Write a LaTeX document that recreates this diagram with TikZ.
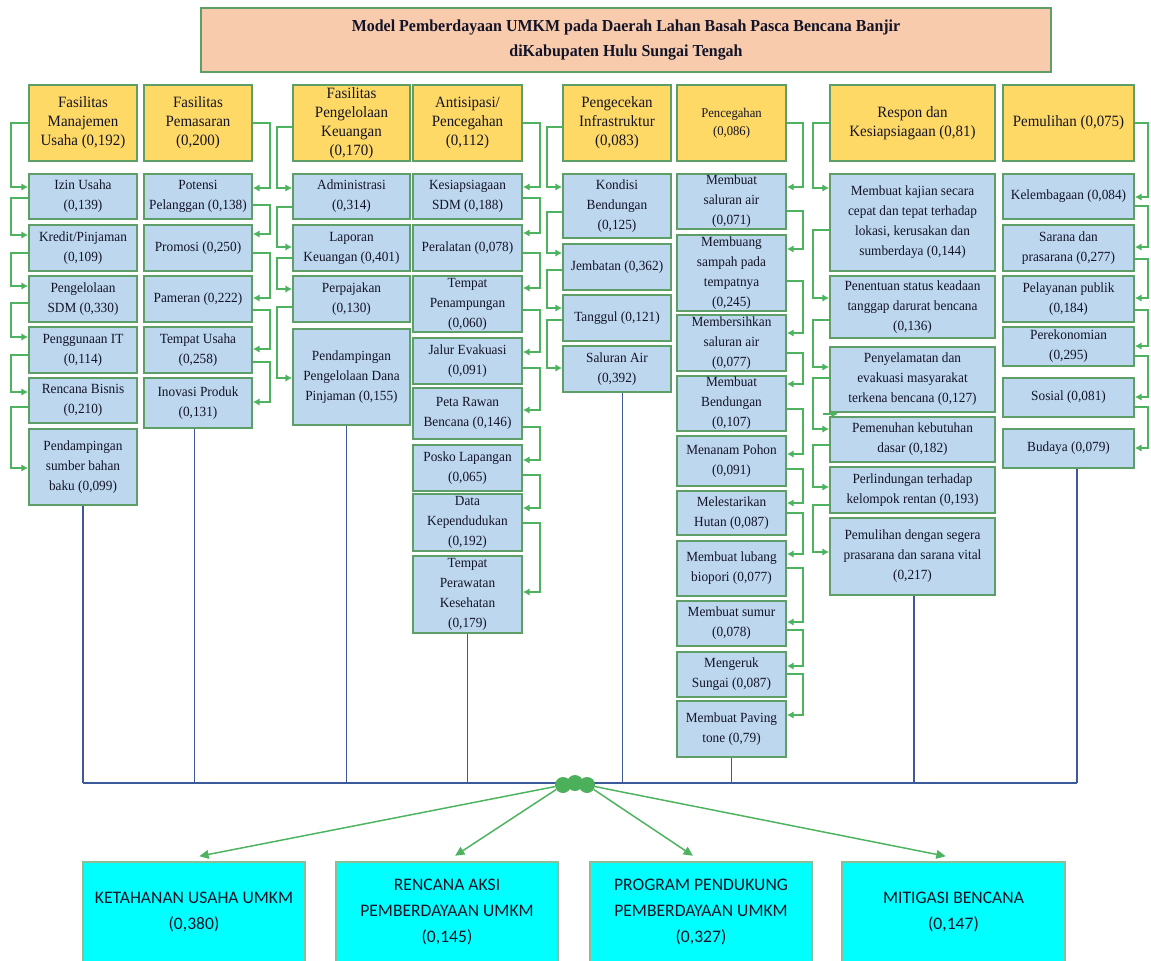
\documentclass[tikz,border=0pt]{standalone}
\usepackage{fontspec}
\setmainfont{Liberation Serif}[FakeStretch=0.95]
\newfontfamily\calfont{Carlito}
\usetikzlibrary{arrows.meta,calc}
\definecolor{hdrY}{HTML}{FFD966}
\definecolor{boxB}{HTML}{BDD7EE}
\definecolor{bordG}{HTML}{5E9F68}
\definecolor{connG}{HTML}{4DB35E}
\definecolor{busB}{HTML}{3C5A99}
\definecolor{titleP}{HTML}{F8CBAD}
\definecolor{cyanB}{HTML}{00FFFF}
\definecolor{blobG}{HTML}{4CAF5A}
\definecolor{txt}{HTML}{141428}
\tikzset{
  box/.style={draw=bordG, line width=1.3pt, fill=boxB, align=center, inner sep=0pt, text=txt,
    font=\fontsize{10.5}{15}\selectfont},
  hdrbox/.style={box, fill=hdrY, font=\fontsize{11.8}{14.3}\selectfont},
  smallhdr/.style={box, fill=hdrY, font=\fontsize{10}{13.8}\selectfont},
  titlebox/.style={box, fill=titleP, line width=1pt, font=\bfseries\fontsize{12.6}{18.7}\selectfont},
  goalbox/.style={draw=bordG!70, line width=0.8pt, fill=cyanB, align=center, inner sep=0pt, text=txt,
    font=\calfont\fontsize{13.2}{19.5}\selectfont},
  conn/.style={draw=connG, line width=1.1pt, -{Latex[length=5pt,width=5.5pt]}},
  busline/.style={draw=busB, line width=1pt},
  blob/.style={circle, fill=blobG, minimum size=12pt, inner sep=0pt},
  barrow/.style={draw=connG, line width=1.1pt, -{Triangle[length=7pt,width=6.5pt]}, shorten >=1pt},
}
\newcommand\bx[7][box]{\node[#1, minimum width={0.75pt*(#5-#3)}, minimum height={0.75pt*(#6-#4)}] (#2) at ({(#3+#5)/2},{(#4+#6)/2}) {#7};}
\newcommand\cL[5]{\path (#5,#2) coordinate (ca) (#5,#4) coordinate (cb); \draw[conn] (#1.west |- ca) -- (ca) -- (cb) -- (#3.west |- cb);}
\newcommand\cR[5]{\path (#5,#2) coordinate (ca) (#5,#4) coordinate (cb); \draw[conn] (#1.east |- ca) -- (ca) -- (cb) -- (#3.east |- cb);}
\begin{document}
\begin{tikzpicture}[x=0.75pt,y=-0.75pt]
\useasboundingbox (0,0) rectangle (1151,960);
\fill[white] (0,0) rectangle (1151,960);

\bx[titlebox]{title}{201}{8}{1051}{72}{Model Pemberdayaan UMKM pada Daerah Lahan Basah Pasca Bencana Banjir\\diKabupaten Hulu Sungai Tengah}

% headers
\bx[hdrbox]{H1}{29}{85}{137}{161}{Fasilitas\\Manajemen\\Usaha (0,192)}
\bx[hdrbox]{H2}{144}{85}{252}{161}{Fasilitas\\Pemasaran\\(0,200)}
\bx[hdrbox]{H3}{293}{85}{410}{161}{Fasilitas\\Pengelolaan\\Keuangan\\(0,170)}
\bx[hdrbox]{H4}{413}{85}{522}{161}{Antisipasi/\\Pencegahan\\(0,112)}
\bx[hdrbox]{H5}{563}{85}{671}{161}{Pengecekan\\Infrastruktur\\(0,083)}
\bx[smallhdr]{H6}{677}{85}{786}{161}{Pencegahan\\(0,086)}
\bx[hdrbox]{H7}{830}{85}{995}{161}{Respon dan\\Kesiapsiagaan (0,81)}
\bx[hdrbox]{H8}{1003}{85}{1134}{161}{Pemulihan (0,075)}

% column 1
\bx{a1}{29}{174}{137}{219}{Izin Usaha\\(0,139)}
\bx{a2}{29}{225}{137}{271}{Kredit/Pinjaman\\(0,109)}
\bx{a3}{29}{276}{137}{322}{Pengelolaan\\SDM (0,330)}
\bx{a4}{29}{327}{137}{373}{Penggunaan IT\\(0,114)}
\bx{a5}{29}{378}{137}{423}{Rencana Bisnis\\(0,210)}
\bx{a6}{29}{429}{137}{505}{Pendampingan\\sumber bahan\\baku (0,099)}

% column 2
\bx{b1}{144}{174}{252}{219}{Potensi\\Pelanggan (0,138)}
\bx{b2}{144}{225}{252}{271}{Promosi (0,250)}
\bx{b3}{144}{276}{252}{322}{Pameran (0,222)}
\bx{b4}{144}{327}{252}{373}{Tempat Usaha\\(0,258)}
\bx{b5}{144}{378}{252}{428}{Inovasi Produk\\(0,131)}

% column 3
\bx{c1}{293}{174}{410}{219}{Administrasi\\(0,314)}
\bx{c2}{293}{225}{410}{271}{Laporan\\Keuangan (0,401)}
\bx{c3}{293}{276}{410}{322}{Perpajakan\\(0,130)}
\bx{c4}{293}{329}{410}{425}{Pendampingan\\Pengelolaan Dana\\Pinjaman (0,155)}

% column 4
\bx{d1}{413}{174}{522}{219}{Kesiapsiagaan\\SDM (0,188)}
\bx{d2}{413}{225}{522}{271}{Peralatan (0,078)}
\bx{d3}{413}{276}{522}{332}{Tempat\\Penampungan\\(0,060)}
\bx{d4}{413}{338}{522}{384}{Jalur Evakuasi\\(0,091)}
\bx{d5}{413}{388}{522}{439}{Peta Rawan\\Bencana (0,146)}
\bx{d6}{413}{445}{522}{491}{Posko Lapangan\\(0,065)}
\bx{d7}{413}{494}{522}{551}{Data\\Kependudukan\\(0,192)}
\bx{d8}{413}{556}{522}{633}{Tempat\\Perawatan\\Kesehatan\\(0,179)}

% column 5
\bx{e1}{563}{174}{671}{238}{Kondisi\\Bendungan\\(0,125)}
\bx{e2}{563}{244}{671}{290}{Jembatan (0,362)}
\bx{e3}{563}{295}{671}{341}{Tanggul (0,121)}
\bx{e4}{563}{346}{671}{392}{Saluran Air\\(0,392)}

% column 6
\bx{f1}{677}{174}{786}{229}{Membuat\\saluran air\\(0,071)}
\bx{f2}{677}{235}{786}{311}{Membuang\\sampah pada\\tempatnya\\(0,245)}
\bx{f3}{677}{315}{786}{371}{Membersihkan\\saluran air\\(0,077)}
\bx{f4}{677}{376}{786}{431}{Membuat\\Bendungan\\(0,107)}
\bx{f5}{677}{436}{786}{486}{Menanam Pohon\\(0,091)}
\bx{f6}{677}{491}{786}{535}{Melestarikan\\Hutan (0,087)}
\bx{f7}{677}{541}{786}{596}{Membuat lubang\\biopori (0,077)}
\bx{f8}{677}{601}{786}{646}{Membuat sumur\\(0,078)}
\bx{f9}{677}{652}{786}{697}{Mengeruk\\Sungai (0,087)}
\bx{f10}{677}{701}{786}{757}{Membuat Paving\\tone (0,79)}

% column 7
\bx{g1}{830}{174}{995}{271}{Membuat kajian secara\\cepat dan tepat terhadap\\lokasi, kerusakan dan\\sumberdaya (0,144)}
\bx{g2}{830}{276}{995}{338}{Penentuan status keadaan\\tanggap darurat bencana\\(0,136)}
\bx{g3}{830}{347}{995}{412}{Penyelamatan dan\\evakuasi masyarakat\\terkena bencana (0,127)}
\bx{g4}{830}{417}{995}{462}{Pemenuhan kebutuhan\\dasar (0,182)}
\bx{g5}{830}{467}{995}{513}{Perlindungan terhadap\\kelompok rentan (0,193)}
\bx{g6}{830}{518}{995}{595}{Pemulihan dengan segera\\prasarana dan sarana vital\\(0,217)}

% column 8
\bx{p1}{1003}{174}{1134}{219}{Kelembagaan (0,084)}
\bx{p2}{1003}{225}{1134}{271}{Sarana dan\\prasarana (0,277)}
\bx{p3}{1003}{276}{1134}{322}{Pelayanan publik\\(0,184)}
\bx{p4}{1003}{327}{1134}{366}{Perekonomian\\(0,295)}
\bx{p5}{1003}{378}{1134}{417}{Sosial (0,081)}
\bx{p6}{1003}{429}{1134}{468}{Budaya (0,079)}

% connectors column 1
\cL{H1}{123}{a1}{187}{11}
\cL{a1}{198}{a2}{235}{11}
\cL{a2}{253}{a3}{286}{11}
\cL{a3}{303}{a4}{337}{11}
\cL{a4}{355}{a5}{392}{11}
\cL{a5}{407}{a6}{468}{11}
% column 2
\cR{H2}{123}{b1}{188}{270}
\cR{b1}{205}{b2}{234}{270}
\cR{b2}{253}{b3}{298}{270}
\cR{b3}{310}{b4}{349}{270}
\cR{b4}{362}{b5}{402}{270}
% column 3
\cL{H3}{127}{c1}{188}{277}
\cL{c1}{207}{c2}{247}{277}
\cL{c2}{258}{c3}{289}{277}
\cL{c3}{307}{c4}{378}{277}
% column 4
\cR{H4}{123}{d1}{187}{540}
\cR{d1}{198}{d2}{233}{540}
\cR{d2}{253}{d3}{288}{540}
\cR{d3}{310}{d4}{352}{540}
\cR{d4}{368}{d5}{410}{540}
\cR{d5}{427}{d6}{460}{540}
\cR{d6}{475}{d7}{508}{540}
\cR{d7}{523}{d8}{592}{540}
% column 5
\cL{H5}{127}{e1}{187}{547}
\cL{e1}{212}{e2}{253}{547}
\cL{e2}{270}{e3}{308}{547}
\cL{e3}{320}{e4}{368}{547}
% column 6
\cR{H6}{123}{f1}{187}{803}
\cR{f1}{211}{f2}{249}{803}
\cR{f2}{281}{f3}{333}{803}
\cR{f3}{353}{f4}{384}{803}
\cR{f4}{409}{f5}{454}{803}
\cR{f5}{469}{f6}{503}{803}
\cR{f6}{513}{f7}{554}{803}
\cR{f7}{568}{f8}{622}{803}
\cR{f8}{630}{f9}{666}{803}
\cR{f9}{674}{f10}{715}{803}
% column 7
\cL{H7}{123}{g1}{188}{813}
\cL{g1}{230}{g2}{298}{813}
\cL{g2}{320}{g3}{367}{813}
\cL{g3}{378}{g4}{429}{813}
\cL{g4}{445}{g5}{487}{813}
\cL{g5}{505}{g6}{552}{813}
\draw[conn] ($(g3.south west)+(-6,1)$) -- ($(g3.south west)+(9,1)$);
% column 8
\cR{H8}{123}{p1}{197}{1148}
\cR{p1}{206}{p2}{247}{1148}
\cR{p2}{259}{p3}{298}{1148}
\cR{p3}{310}{p4}{346}{1148}
\cR{p4}{356}{p5}{397}{1148}
\cR{p5}{407}{p6}{448}{1148}

% bus
\coordinate (busL) at (83,783);
\coordinate (busR) at (1077,783);
\draw[busline] (a6.south) -- (a6.south |- busL);
\draw[busline] ($(b5.south)+(-3.5,0)$) -- ($(b5.south |- busL)+(-3.5,0)$);
\draw[busline] ($(c4.south)+(-5,0)$) -- ($(c4.south |- busL)+(-5,0)$);
\draw[busline] (d8.south) -- (d8.south |- busL);
\draw[busline] ($(e4.south)+(5.5,0)$) -- ($(e4.south |- busL)+(5.5,0)$);
\draw[busline] (f10.south) -- (f10.south |- busL);
\draw[busline] ($(g6.south)+(1.5,0)$) -- ($(g6.south |- busL)+(1.5,0)$);
\draw[busline] ($(p6.south)+(8.5,0)$) -- ($(p6.south |- busL)+(8.5,0)$);
\draw[busline] (busL) -- (busR);

% goals
\bx[goalbox]{k1}{83}{862}{305}{962}{KETAHANAN USAHA UMKM\\(0,380)}
\bx[goalbox]{k2}{336}{862}{558}{962}{RENCANA AKSI\\PEMBERDAYAAN UMKM\\(0,145)}
\bx[goalbox]{k3}{590}{862}{812}{962}{PROGRAM PENDUKUNG\\PEMBERDAYAAN UMKM\\(0,327)}
\bx[goalbox]{k4}{842}{862}{1065}{962}{MITIGASI BENCANA\\(0,147)}

% blobs
\node[blob] (bl1) at (563,785) {};
\node[blob] (bl2) at (575,783) {};
\node[blob] (bl3) at (587,785) {};
\draw[barrow] (bl1) -- ($(k1.north)+(4,-5)$);
\draw[barrow] (bl1) -- ($(k2.north)+(7,-5)$);
\draw[barrow] (bl3) -- ($(k3.north)+(-7,-5)$);
\draw[barrow] (bl3) -- ($(k4.north)+(-6.5,-5)$);
\end{tikzpicture}
\end{document}
